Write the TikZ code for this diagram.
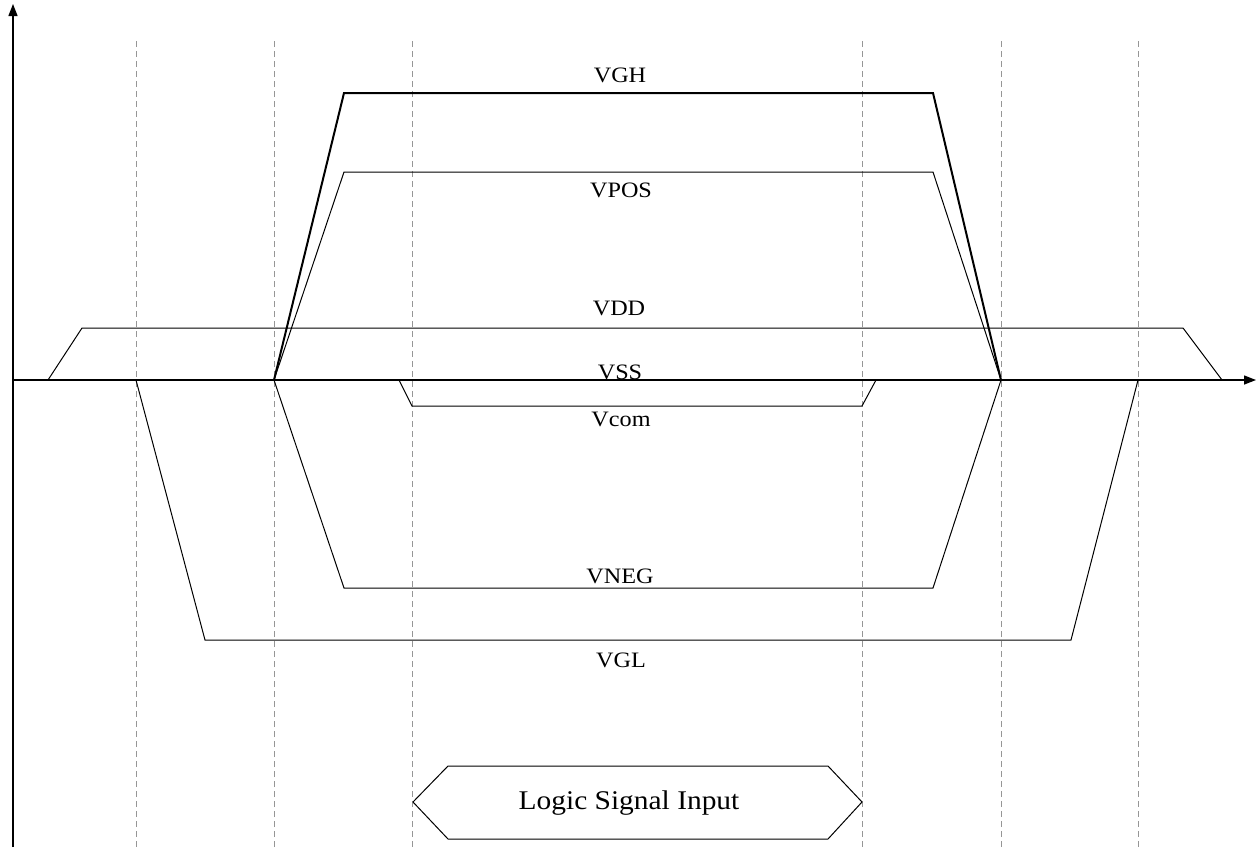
\documentclass[tikz,border=0pt]{standalone}
\usepackage{fontspec}
\usepackage{graphicx}
\setmainfont{Liberation Serif}
\usetikzlibrary{arrows.meta}
\newcommand{\wlab}[1]{\scalebox{1.1}[1]{#1}}
\begin{document}
\begin{tikzpicture}[x=1pt,y=-1pt,
  axis/.style={line width=1.4pt,-{Triangle[length=12pt,width=9pt]}},
  grid/.style={draw={rgb,255:red,150;green,150;blue,150},line width=1pt,dash pattern=on 6pt off 4pt},
  sig/.style={line width=1pt},
  sigbold/.style={line width=2pt},
  lab/.style={font=\fontsize{22}{25}\selectfont,anchor=base,inner sep=0pt},
  biglab/.style={font=\fontsize{27}{30}\selectfont,anchor=base,inner sep=0pt}]
\useasboundingbox (0,0) rectangle (1258,847);
% dashed guides
\foreach \x in {136,274,412,862,1001,1138}
  \draw[grid] (\x,41) -- (\x,847);
% axes
\coordinate (o) at (13,380);
\coordinate (ytop) at (13,4);
\coordinate (ybot) at (13,847);
\coordinate (xend) at (1256,380);
\draw[axis] (ybot) -- (ytop);
\draw[axis] (o) -- (xend);
% signals
\draw[sigbold,line join=miter] (274,380) -- (344,93) -- (933,93) -- (1001,380);
\draw[sig] (274,380) -- (344,172) -- (933,172) -- (1001,380);
\draw[sig] (48,380) -- (82,328) -- (1183,328) -- (1222,380);
\draw[sig] (399,380) -- (412,406) -- (862,406) -- (876,380);
\draw[sig] (274,380) -- (344,588) -- (933,588) -- (1001,380);
\draw[sig] (136,380) -- (205,640) -- (1071,640) -- (1138,380);
% labels
\node[lab] (vgh) at (620,82) {\wlab{VGH}};
\node[lab] (vpos) at (621,197) {\wlab{VPOS}};
\node[lab] (vdd) at (619,315) {\wlab{VDD}};
\node[lab] (vss) at (620,379) {\wlab{VSS}};
\node[lab] (vcom) at (621,426) {\wlab{Vcom}};
\node[lab] (vneg) at (620,583) {\wlab{VNEG}};
\node[lab] (vgl) at (621,667) {\wlab{VGL}};
% logic block
\draw[sig,fill=white] (413,802) -- (448,766) -- (828,766) -- (862,802) -- (828,839) -- (448,839) -- cycle;
\node[biglab] (logic) at (629,809) {\scalebox{1.09}[1]{Logic Signal Input}};
\end{tikzpicture}
\end{document}
